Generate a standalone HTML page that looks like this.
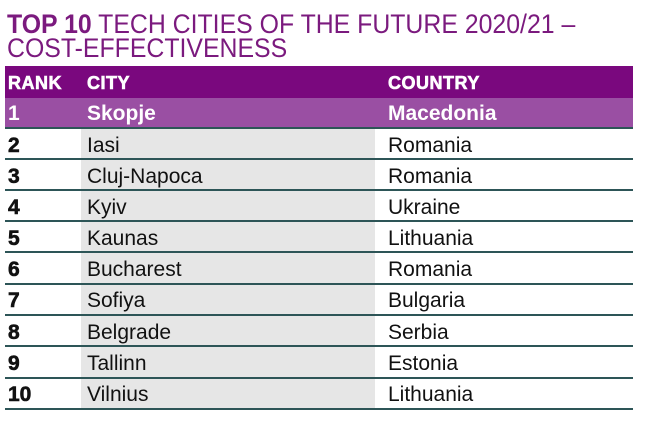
<!DOCTYPE html>
<html><head><meta charset="utf-8"><style>
body{margin:0;width:645px;height:432px;background:#fff;position:relative;overflow:hidden;font-family:"Liberation Sans",sans-serif}
.t{position:absolute;left:7px;color:#7b1a7e;font-size:27px;line-height:27px;white-space:nowrap;transform:scaleX(0.92);transform-origin:left top}
.hdr{position:absolute;left:5px;top:66px;width:628px;height:32px;background:#7a087e}
.r1{position:absolute;left:5px;top:98px;width:628px;height:30px;background:#9a4fa3}
.grey{position:absolute;left:81px;top:128px;width:294px;height:281px;background:#e6e6e6}
.ln{position:absolute;left:5px;width:628px;height:2px;background:#2d5557}
.c{position:absolute;font-size:21px;color:#111;white-space:nowrap}
.h{position:absolute;font-size:18px;font-weight:900;color:#fff;letter-spacing:0.5px;-webkit-text-stroke:0.6px #fff}
.n{font-weight:bold;-webkit-text-stroke:0.6px #111}
</style></head><body>
<div class="t" style="top:11px"><b>TOP 10</b> TECH CITIES OF THE FUTURE 2020/21 –</div>
<div class="t" style="top:35px">COST-EFFECTIVENESS</div>
<div class="hdr"></div>
<div class="r1"></div>
<div class="grey"></div>
<div class="h" style="left:8px;top:73px">RANK</div>
<div class="h" style="left:87px;top:73px">CITY</div>
<div class="h" style="left:388px;top:73px">COUNTRY</div>
<div class="c" style="left:8px;top:102px;color:#fff;font-weight:bold">1</div>
<div class="c" style="left:87px;top:102px;color:#fff;font-weight:bold">Skopje</div>
<div class="c" style="left:388px;top:102px;color:#fff;font-weight:bold">Macedonia</div>
<div class="ln" style="top:127px"></div>
<div class="ln" style="top:158px"></div>
<div class="ln" style="top:189px"></div>
<div class="ln" style="top:220px"></div>
<div class="ln" style="top:251px"></div>
<div class="ln" style="top:283px"></div>
<div class="ln" style="top:314px"></div>
<div class="ln" style="top:345px"></div>
<div class="ln" style="top:377px"></div>
<div class="ln" style="top:408px"></div>

<div class="c n" style="left:8px;top:134px">2</div><div class="c" style="left:87px;top:134px">Iasi</div><div class="c" style="left:388px;top:134px">Romania</div>
<div class="c n" style="left:8px;top:165px">3</div><div class="c" style="left:87px;top:165px">Cluj-Napoca</div><div class="c" style="left:388px;top:165px">Romania</div>
<div class="c n" style="left:8px;top:196px">4</div><div class="c" style="left:87px;top:196px">Kyiv</div><div class="c" style="left:388px;top:196px">Ukraine</div>
<div class="c n" style="left:8px;top:227px">5</div><div class="c" style="left:87px;top:227px">Kaunas</div><div class="c" style="left:388px;top:227px">Lithuania</div>
<div class="c n" style="left:8px;top:258px">6</div><div class="c" style="left:87px;top:258px">Bucharest</div><div class="c" style="left:388px;top:258px">Romania</div>
<div class="c n" style="left:8px;top:289px">7</div><div class="c" style="left:87px;top:289px">Sofiya</div><div class="c" style="left:388px;top:289px">Bulgaria</div>
<div class="c n" style="left:8px;top:321px">8</div><div class="c" style="left:87px;top:321px">Belgrade</div><div class="c" style="left:388px;top:321px">Serbia</div>
<div class="c n" style="left:8px;top:352px">9</div><div class="c" style="left:87px;top:352px">Tallinn</div><div class="c" style="left:388px;top:352px">Estonia</div>
<div class="c n" style="left:8px;top:383px">10</div><div class="c" style="left:87px;top:383px">Vilnius</div><div class="c" style="left:388px;top:383px">Lithuania</div>
</body></html>
